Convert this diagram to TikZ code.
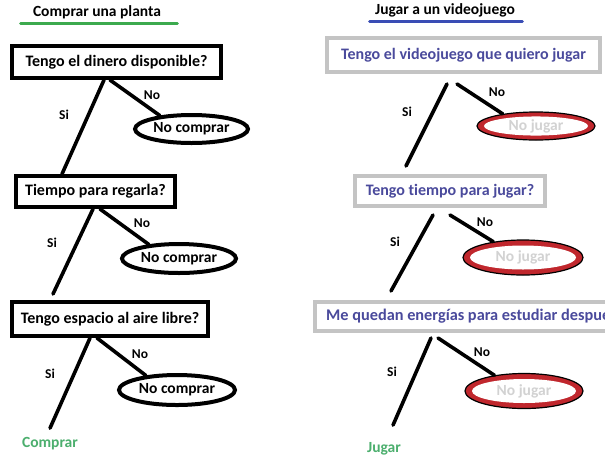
\documentclass[tikz,border=0pt]{standalone}
\usepackage{fontspec}
\setmainfont{Carlito}[Ligatures=NoCommon]
\usetikzlibrary{shapes.geometric,calc}
\definecolor{ttgreen}{HTML}{3CAA4E}
\definecolor{ttgreentext}{HTML}{4CAF6E}
\definecolor{ttblue}{HTML}{3A4DB5}
\definecolor{ttbluetext}{HTML}{4A4A9C}
\definecolor{ttgray}{HTML}{C4C4C4}
\definecolor{ttred}{HTML}{C0272D}
\definecolor{ttlight}{HTML}{D2D2D2}
\tikzset{
  qbox/.style={draw=black, line width=4pt, rectangle, inner sep=0pt, font=\fontsize{16}{18}\selectfont\bfseries},
  gbox/.style={draw=ttgray, line width=4pt, rectangle, inner sep=0pt, text=ttbluetext, font=\fontsize{16}{18}\selectfont\bfseries},
  nobox/.style={draw=black, ellipse, line width=4pt, inner sep=0pt, font=\fontsize{15.5}{18}\selectfont\bfseries},
  rbox/.style={draw=black, fill=ttred, ellipse, line width=1.2pt, inner sep=0pt},
  rtext/.style={ellipse, fill=white, inner sep=0pt, text=ttlight, font=\fontsize{15.5}{18}\selectfont\bfseries},
  conn/.style={line width=3.6pt, line cap=round},
  lbl/.style={font=\fontsize{13.5}{15}\selectfont\bfseries},
  ttl/.style={font=\fontsize{15.5}{18}\selectfont\bfseries},
  endtxt/.style={text=ttgreentext, font=\fontsize{15.5}{18}\selectfont\bfseries},
}
\begin{document}
\begin{tikzpicture}[x=1pt,y=-1pt]
\useasboundingbox (0,0) rectangle (605,467);
\clip (0,0) rectangle (605,467);
\fill[white] (0,0) rectangle (605,467);
% titles
\node[ttl] (t1) at (97,12) {Comprar una planta};
\draw[ttgreen, line width=3pt, line cap=round] ($(t1.south west)+(-9,1)$) -- ($(t1.south east)+(13,1)$);
\node[ttl] (t2) at (445,10) {Jugar a un videojuego};
\draw[ttblue, line width=3pt, line cap=round] ($(t2.south west)+(-2,1)$) -- ($(t2.south east)+(4,1)$);
% left tree
\node[qbox, minimum width=209pt, minimum height=32pt] (b1) at (116.5,62) {Tengo el dinero disponible?};
\node[nobox, minimum width=113pt, minimum height=28pt] (e1) at (191.5,129) {No comprar};
\node[qbox, minimum width=159pt, minimum height=31pt] (b2) at (95.5,191.5) {Tiempo para regarla?};
\node[nobox, minimum width=114pt, minimum height=29pt] (e2) at (179,258.5) {No comprar};
\node[qbox, minimum width=196pt, minimum height=34pt] (b3) at (110,319) {Tengo espacio al aire libre?};
\node[nobox, minimum width=116pt, minimum height=30pt] (e3) at (177,390) {No comprar};
\node[endtxt] (c1) at (50,444) {Comprar};
\draw[conn] ($(b1.south)+(-12.5,0)$) -- ($(b2.north)+(-33.5,0)$);
\draw[conn] ($(b1.south)+(-6.5,0)$) -- (e1.157);
\draw[conn] ($(b2.south)+(-2.5,0)$) -- ($(b3.north)+(-57,-6)$);
\draw[conn] ($(b2.south)+(4.5,0)$) -- (e2.155);
\draw[conn] ($(b3.south)+(-20,0)$) -- ($(c1.north)+(0,-6)$);
\draw[conn] ($(b3.south)+(-13,0)$) -- (e3.155);
\node[lbl] (n1) at (152,95) {No};
\node[lbl] (s1) at (64,115) {Si};
\node[lbl] (n2) at (142,223) {No};
\node[lbl] (s2) at (52,243) {Si};
\node[lbl] (n3) at (140,354) {No};
\node[lbl] (s3) at (50,374) {Si};
% right tree
\node[gbox, minimum width=273pt, minimum height=34pt] (rb1) at (463.5,55) {Tengo el videojuego que quiero jugar};
\node[rbox, minimum width=118pt, minimum height=28pt] (re1) at (536,126) {};
\node[rtext, minimum width=104pt, minimum height=18pt] (re1t) at (re1.center) {No jugar};
\node[gbox, minimum width=190pt, minimum height=30pt] (rb2) at (450,191) {Tengo tiempo para jugar?};
\node[rbox, minimum width=120pt, minimum height=35pt] (re2) at (523,257.5) {};
\node[rtext, minimum width=106pt, minimum height=24pt] (re2t) at (re2.center) {No jugar};
\node[gbox, minimum width=320pt, minimum height=29pt] (rb3) at (475,316.5) {};
\node[anchor=west, text=ttbluetext, inner sep=0pt, font=\fontsize{16.3}{18}\selectfont\bfseries] (rb3t) at (326,316.5) {Me quedan energías para estudiar despue};
\node[rbox, minimum width=118pt, minimum height=35pt] (re3) at (524,391) {};
\node[rtext, minimum width=104pt, minimum height=24pt] (re3t) at (re3.center) {No jugar};
\node[endtxt] (c2) at (384,449) {Jugar};
\draw[conn] ($(rb1.south)+(-16.5,10)$) -- ($(rb2.north)+(-44,-8)$);
\draw[conn] ($(rb1.south)+(-6.5,10)$) -- (re1.160);
\draw[conn] ($(rb2.south)+(-17,7)$) -- ($(rb3.north west)+(78,-9)$);
\draw[conn] ($(rb2.south)+(0,7)$) -- (re2.152);
\draw[conn] ($(rb3.south west)+(118,5)$) -- ($(c2.north)+(9,-14)$);
\draw[conn] ($(rb3.south west)+(125,5)$) -- (re3.152);
\node[lbl] (n4) at (497,92) {No};
\node[lbl] (s4) at (407,112) {Si};
\node[lbl] (n5) at (485,222) {No};
\node[lbl] (s5) at (395,242) {Si};
\node[lbl] (n6) at (482,352) {No};
\node[lbl] (s6) at (392,372) {Si};
\end{tikzpicture}
\end{document}
